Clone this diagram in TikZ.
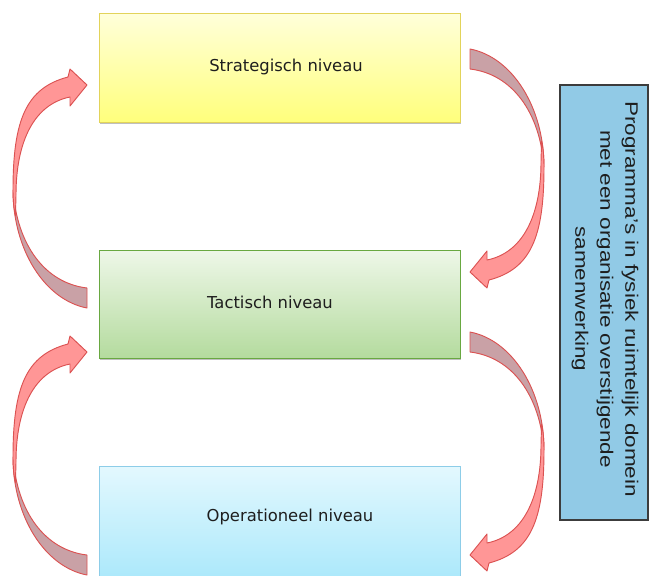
\documentclass[tikz,border=0pt]{standalone}
\usepackage{fontspec}
\usetikzlibrary{shadows}
\newfontfamily\boxfont{DejaVu Sans}
\newfontfamily\sidefont[FakeStretch=1.25]{Liberation Sans}

\definecolor{stratTop}{HTML}{FFFFDA}
\definecolor{stratBot}{HTML}{FFFF7C}
\definecolor{stratLine}{HTML}{E2D35A}
\definecolor{tactTop}{HTML}{EEF7E8}
\definecolor{tactBot}{HTML}{B4DB9E}
\definecolor{tactLine}{HTML}{69A841}
\definecolor{operTop}{HTML}{E3F8FE}
\definecolor{operBot}{HTML}{ADE9FB}
\definecolor{operLine}{HTML}{8DCDE8}
\definecolor{sideFill}{HTML}{91CAE6}
\definecolor{sideLine}{HTML}{3C3C3C}
\definecolor{ribbonFront}{HTML}{FF9696}
\definecolor{ribbonBack}{HTML}{C9A1A6}
\definecolor{ribbonLine}{HTML}{DB5252}
\definecolor{labelText}{HTML}{1E1E1E}

% curved ribbon arrow: tail at the lower right, head at the upper right
\newcommand{\ribbonarrow}{%
  % back side of the ribbon, towards the tail
  \filldraw[ribbonback] (87,288) -- (87,308)
    .. controls (45,300) and (13,250) .. (13,190)
    .. controls (17,245) and (45,283) .. (87,288) -- cycle;
  % front side of the ribbon with the head
  \filldraw[ribbonfront] (68,77)
    .. controls (26,88) and (13,120) .. (13,190)
    .. controls (13,200) and (14,210) .. (15.5,216)
    .. controls (15.5,208) and (16,200) .. (16,195)
    .. controls (16,140) and (35,104) .. (70,97)
    -- (70,106) -- (87,85) -- (70,69) -- cycle;
}

\begin{document}
\begin{tikzpicture}[x=0.75pt,y=-0.75pt,
  levelbox/.style={rectangle, inner sep=0pt, line width=0.75pt,
    minimum width=270.75pt,
    drop shadow={shadow xshift=0.8pt, shadow yshift=-1.5pt, opacity=0.25, fill=black}},
  levellabel/.style={inner sep=0pt, text=labelText,
    font=\boxfont\fontsize{12.3}{14}\selectfont},
  sidebox/.style={rectangle, inner sep=0pt, fill=sideFill, draw=sideLine,
    line width=1.1pt, minimum width=66pt, minimum height=326.25pt},
  sidelabel/.style={inner sep=0pt, align=center, text=labelText,
    font=\sidefont\fontsize{13.5}{18.75}\selectfont},
  ribbonfront/.style={fill=ribbonFront, draw=ribbonLine, line width=0.7pt, line join=round},
  ribbonback/.style={fill=ribbonBack, draw=ribbonLine, line width=0.7pt, line join=round}]

\useasboundingbox (0,0) rectangle (649,575);
\clip (0,0) rectangle (649,575);

% the three levels
\node[levelbox, minimum height=81.75pt, top color=stratTop, bottom color=stratBot,
  draw=stratLine] (stratbox) at (279.5,67.5) {};
\node[levelbox, minimum height=81pt, top color=tactTop, bottom color=tactBot,
  draw=tactLine] (tactbox) at (279.5,304) {};
\node[levelbox, minimum height=82.5pt, top color=operTop, bottom color=operBot,
  draw=operLine] (operbox) at (279.5,521) {};

\node[levellabel] (strattxt) at (286,67) {Strategisch niveau};
\node[levellabel] (tacttxt) at (270,302) {Tactisch niveau};
\node[levellabel] (opertxt) at (290,517) {Operationeel niveau};

% side panel with vertical text
\node[sidebox] (sidebox) at (604,302.5) {};
\node[sidelabel, rotate=-90] (sidetxt) at (605,299)
  {Programma’s in fysiek ruimtelijk domein\\met een organisatie overstijgende\\samenwerking};

% upward arrows on the left
\begin{scope}
  \ribbonarrow
\end{scope}
\begin{scope}[shift={(0,267)}]
  \ribbonarrow
\end{scope}

% downward arrows on the right
\begin{scope}[shift={(557,357)}, rotate=180]
  \ribbonarrow
\end{scope}
\begin{scope}[shift={(557,640)}, rotate=180]
  \ribbonarrow
\end{scope}

\end{tikzpicture}
\end{document}
